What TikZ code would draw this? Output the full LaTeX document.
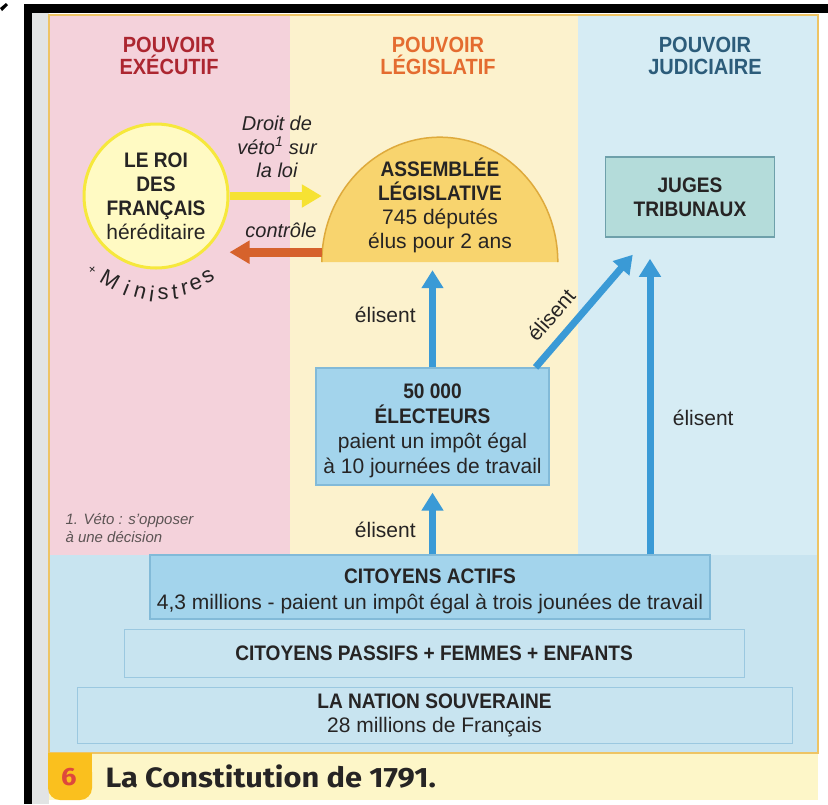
\documentclass[tikz,border=0pt]{standalone}
\usepackage{xcolor}
\usepackage{fontspec}
\setmainfont{Liberation Sans}[BoldFeatures={FakeStretch=0.91}]
\newfontfamily\capfont{Fira Sans}[FakeStretch=1.1]
\usetikzlibrary{shapes, arrows.meta, positioning}

\definecolor{execpink}{RGB}{244,210,219}
\definecolor{legyellow}{RGB}{252,242,205}
\definecolor{judblue}{RGB}{214,236,244}
\definecolor{baseblue}{RGB}{200,228,240}
\definecolor{boxblue}{RGB}{163,212,236}
\definecolor{boxline}{RGB}{130,186,216}
\definecolor{jugesfill}{RGB}{180,220,218}
\definecolor{jugesline}{RGB}{110,160,170}
\definecolor{roifill}{RGB}{255,250,195}
\definecolor{roiline}{RGB}{246,232,60}
\definecolor{domefill}{RGB}{248,212,110}
\definecolor{domeline}{RGB}{222,170,60}
\definecolor{vetoyellow}{RGB}{246,226,50}
\definecolor{ctrlorange}{RGB}{214,98,44}
\definecolor{elisblue}{RGB}{58,154,214}
\definecolor{execred}{RGB}{172,38,48}
\definecolor{legorange}{RGB}{228,108,48}
\definecolor{judteal}{RGB}{44,92,122}
\definecolor{inktext}{RGB}{38,36,36}
\definecolor{frameline}{RGB}{238,196,100}
\definecolor{capstrip}{RGB}{253,246,200}
\definecolor{captab}{RGB}{250,192,30}
\definecolor{capsix}{RGB}{222,72,60}
\definecolor{scangray}{RGB}{226,228,228}
\definecolor{notegray}{RGB}{92,84,84}

\begin{document}
\begin{tikzpicture}[x=1pt, y=-1pt, font=\fontsize{21}{24}\selectfont, text=inktext,
    header/.style={font=\fontsize{22}{22}\selectfont\bfseries, align=center},
    bluebox/.style={draw=boxline, line width=1.2pt, fill=boxblue, align=center, inner sep=0pt},
    basebox/.style={draw=boxline!80!white, line width=1pt, fill=baseblue, align=center, inner sep=0pt},
    elis/.style={-{Triangle[length=18pt, width=21pt]}, line width=7pt, draw=elisblue},
    vetoarrow/.style={-{Triangle[length=20pt, width=22pt]}, line width=8pt, draw=vetoyellow},
    ctrlarrow/.style={-{Triangle[length=20pt, width=22pt]}, line width=9pt, draw=ctrlorange}]
    \useasboundingbox (0,0) rectangle (828,804);
    % page and scan border
    \fill[white] (0,0) rectangle (828,804);
    \fill[scangray] (32,13) rectangle (49,804);
    \fill[black] (24,4) rectangle (828,13);
    \fill[black] (24,4) rectangle (32,804);
    \fill[black] (0,8) -- (6,3) -- (8,5) -- (2,11) -- cycle;
    % the three powers
    \fill[execpink] (49,15) rectangle (290,555);
    \fill[legyellow] (290,15) rectangle (578,555);
    \fill[judblue] (578,15) rectangle (818,555);
    \fill[baseblue] (49,555) rectangle (818,753);
    \draw[frameline, line width=1.5pt] (49,15) rectangle (818,753);
    \node[header, text=execred] (hexec) at (169,56) {POUVOIR\\EXÉCUTIF};
    \node[header, text=legorange] (hlegis) at (438,56) {POUVOIR\\LÉGISLATIF};
    \node[header, text=judteal] (hjudic) at (705,56) {POUVOIR\\JUDICIAIRE};

    % the king
    \node[circle, draw=roiline, line width=3pt, fill=roifill, minimum size=144pt, align=center, inner sep=0pt] (roi) at (156,196)
        {\textbf{LE ROI}\\\textbf{DES}\\\textbf{FRANÇAIS}\\héréditaire};
    \node[font=\fontsize{13}{13}\selectfont, rotate=-40] (plus) at (92,270) {+};
    \foreach \ch/\px/\py/\rot [count=\i] in {M/110/280/-30, i/127/288/-22, n/140/292/-15, i/152/294/-8, s/163/294/0,
        t/175/292/6, r/185/289/12, e/196/284/20, s/208/277/30}
        \node[font=\fontsize{22}{22}\selectfont, rotate=\rot, inner sep=0pt] (min\i) at (\px,\py) {\ch};

    % the assembly
    \node[minimum width=236pt, minimum height=125pt, inner sep=0pt] (assemblee) at (440,199.5) {};
    \fill[domefill] (assemblee.south west) arc[start angle=180, end angle=360, x radius=118, y radius=125] -- cycle;
    \draw[domeline, line width=1.5pt] (assemblee.south west) arc[start angle=180, end angle=360, x radius=118, y radius=125];
    \node[align=center] (asstext) at (440,205) {\textbf{ASSEMBLÉE}\\\textbf{LÉGISLATIVE}\\745 députés\\élus pour 2 ans};

    \node[align=center, font=\fontsize{20}{23.5}\selectfont\itshape] (veto) at (277,147) {Droit de\\véto\textsuperscript{1} sur\\la loi};
    \draw[vetoarrow] (roi.east) -- (roi.east -| assemblee.west);
    \node[font=\fontsize{20}{24}\selectfont\itshape] (controle) at (281,230) {contrôle};
    \draw[ctrlarrow] ([yshift=10pt]assemblee.south west) -- ([yshift=10pt]assemblee.south west -| roi.east);

    % judges
    \node[draw=jugesline, line width=1.5pt, fill=jugesfill, minimum width=169pt, minimum height=80pt, align=center, font=\fontsize{21}{24}\selectfont\bfseries] (juges) at (690,197) {JUGES\\TRIBUNAUX};

    % electors and citizens
    \node[bluebox, minimum width=233pt, minimum height=117pt] (electeurs) at (432.5,426.5) {};
    \node[align=center, font=\fontsize{21}{25}\selectfont] (electext) at (432.5,431)
        {\textbf{50 000}\\\textbf{ÉLECTEURS}\\paient un impôt égal\\à 10 journées de travail};
    \node[bluebox, minimum width=560pt, minimum height=64pt] (actifs) at (430,587) {};
    \node[align=center] (actiftext) at (430,591)
        {\textbf{CITOYENS ACTIFS}\\[2pt]4,3 millions - paient un impôt égal à trois jounées de travail};
    \node[basebox, minimum width=620pt, minimum height=48pt, font=\fontsize{21}{24}\selectfont\bfseries] (passifs) at (434,653)
        {CITOYENS PASSIFS + FEMMES + ENFANTS};
    \node[basebox, minimum width=715pt, minimum height=56pt] (nation) at (434.5,715)
        {\textbf{LA NATION SOUVERAINE}\\28 millions de Français};

    \coordinate (diagend) at ([xshift=28pt, yshift=-17pt]juges.south west);
    \coordinate (jugesin) at ([xshift=-40pt]juges.south);
    \draw[elis, shorten >=8pt] (electeurs.north) -- (electeurs.north |- assemblee.south)
        node[pos=0.5, left=10pt, text=inktext] (elis1) {élisent};
    \draw[elis, shorten >=7pt] (electeurs.south |- actifs.north) -- (electeurs.south)
        node[pos=0.35, left=10pt, text=inktext] (elis2) {élisent};
    \draw[elis] ([xshift=-14pt]electeurs.north east) -- (diagend);
    \node[rotate=49] (elis3) at (551,315) {élisent};
    \draw[elis, shorten >=21pt] (actifs.north -| jugesin) -- (jugesin)
        node[pos=0.43, right=16pt, text=inktext] (elis4) {élisent};

    % footnote
    \node[anchor=west, align=left, font=\fontsize{15}{17.5}\selectfont\itshape, text=notegray] (note) at (62,528) {1. Véto : s'opposer\\à une décision};

    % caption
    \fill[capstrip] (49,754) rectangle (818,800);
    \fill[captab] (48,753) rectangle (92,775);
    \fill[captab, rounded corners=12pt] (48,760) rectangle (92,800);
    \node[font=\capfont\fontsize{25}{25}\selectfont\bfseries, text=capsix] (six) at (69,777) {6};
    \node[anchor=west, font=\capfont\fontsize{28}{28}\selectfont\bfseries] (caption) at (102,777) {La Constitution de 1791.};
\end{tikzpicture}
\end{document}
